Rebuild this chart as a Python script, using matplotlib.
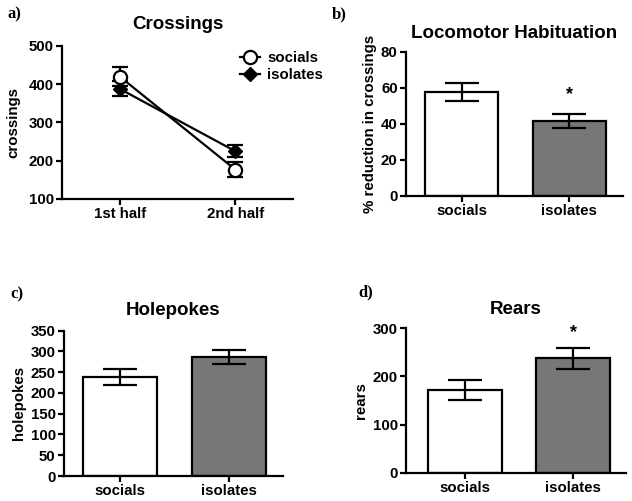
import matplotlib
matplotlib.use("Agg")
import matplotlib.pyplot as plt
from matplotlib.lines import Line2D
import numpy as np

plt.rcParams['font.family'] = ['Liberation Sans', 'DejaVu Sans']
plt.rcParams['font.weight'] = 'bold'

# Panel a: crossings
halves = ["1st half", "2nd half"]
socials_cross = [420, 177]
socials_cross_err = [25, 20]
isolates_cross = [388, 225]
isolates_cross_err = [20, 15]

groups = ["socials", "isolates"]
# Panel b
habituation = [57.4, 41.6]
habituation_err = [5.0, 3.8]
# Panel c
holepokes = [239, 286]
holepokes_err = [19, 17]
# Panel d
rears = [172, 238]
rears_err = [21, 22]

fig = plt.figure(figsize=(6.32, 5.01), dpi=100)

TICK_FS = 10.8
LABEL_FS = 10.8
TITLE_FS = 13.5

def style(ax):
    for s in ['top', 'right']:
        ax.spines[s].set_visible(False)
    for s in ['left', 'bottom']:
        ax.spines[s].set_linewidth(1.6)
    ax.tick_params(width=1.6, length=4, labelsize=TICK_FS, pad=2)
    for lab in ax.get_xticklabels() + ax.get_yticklabels():
        lab.set_fontweight('bold')

# Panel a
axa = fig.add_axes([0.0981, 0.6028, 0.3655, 0.3054])
x = np.arange(len(halves))
axa.errorbar(x, socials_cross, yerr=socials_cross_err, color='black', lw=1.6,
             marker='o', ms=9.5, mfc='white', mec='black', mew=1.6,
             capsize=5.5, capthick=1.6, zorder=3)
axa.errorbar(x, isolates_cross, yerr=isolates_cross_err, color='black', lw=1.6,
             marker='D', ms=7, mfc='black', mec='black',
             capsize=5.5, capthick=1.6, zorder=2)
axa.set_xlim(-0.5, 1.5)
axa.set_ylim(100, 500)
axa.set_yticks([100, 200, 300, 400, 500])
axa.set_xticks(x)
axa.set_xticklabels(halves)
axa.set_ylabel('crossings', fontsize=LABEL_FS, fontweight='bold', labelpad=6)
axa.set_title('Crossings', fontsize=TITLE_FS, fontweight='bold', pad=12)
style(axa)
handles = [Line2D([], [], color='black', lw=1.6, marker='o', ms=9.5, mfc='white',
                  mec='black', mew=1.6),
           Line2D([], [], color='black', lw=1.6, marker='D', ms=7, mfc='black',
                  mec='black')]
leg = axa.legend(handles, ['socials', 'isolates'], loc='upper left',
                 bbox_to_anchor=(0.745, 1.005), frameon=False,
                 fontsize=TICK_FS, handlelength=1.3, handletextpad=0.5,
                 borderaxespad=0, labelspacing=0.2)
for t in leg.get_texts():
    t.set_fontweight('bold')

def bar_panel(rect, vals, errs, ylim, yticks, ylabel, title, xlim, star=None, title_pad=8):
    ax = fig.add_axes(rect)
    xx = np.arange(len(groups))
    ax.bar(xx, vals, width=0.68, color=['white', '#777777'], edgecolor='black',
           linewidth=1.6, zorder=2)
    ax.errorbar(xx, vals, yerr=errs, fmt='none', ecolor='black', elinewidth=1.6,
                capsize=12, capthick=1.6, zorder=3)
    ax.set_xlim(*xlim)
    ax.set_ylim(*ylim)
    ax.set_yticks(yticks)
    ax.set_xticks(xx)
    ax.set_xticklabels(groups)
    ax.set_ylabel(ylabel, fontsize=LABEL_FS, fontweight='bold', labelpad=3)
    ax.set_title(title, fontsize=TITLE_FS, fontweight='bold', pad=title_pad)
    if star is not None:
        ax.text(star[0], star[1], '*', ha='center', va='center', fontsize=13,
                fontweight='bold')
    style(ax)
    return ax

bar_panel([0.6424, 0.6088, 0.3434, 0.2880], habituation, habituation_err,
          (0, 80), [0, 20, 40, 60, 80], '% reduction in crossings',
          'Locomotor Habituation', (-0.52, 1.5), star=(1, 56), title_pad=10)
bar_panel([0.1013, 0.0499, 0.3465, 0.2900], holepokes, holepokes_err,
          (0, 350), [0, 50, 100, 150, 200, 250, 300, 350], 'holepokes',
          'Holepokes', (-0.514, 1.495), title_pad=11)
bar_panel([0.6424, 0.0565, 0.3481, 0.2882], rears, rears_err,
          (0, 300), [0, 100, 200, 300], 'rears',
          'Rears', (-0.546, 1.49), star=(1, 292), title_pad=10)

# Panel letters
for lbl, (px, py) in zip(['a)', 'b)', 'c)', 'd)'],
                         [(8, 14), (332, 14), (10, 294), (358, 292)]):
    fig.text(px / 632, 1 - py / 501, lbl, fontsize=12, fontweight='bold',
             family='Liberation Serif', va='center', ha='left')

fig.savefig('out.png', dpi=100)
